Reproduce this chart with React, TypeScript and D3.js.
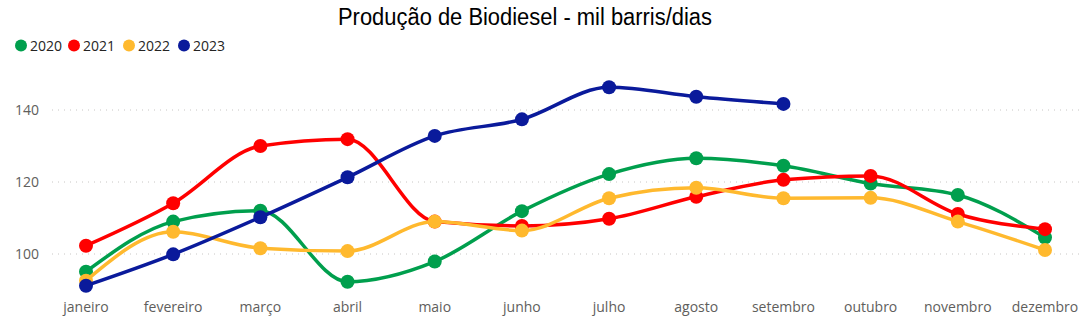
import React from "react";
import * as d3 from "d3";

const months = ["janeiro","fevereiro","março","abril","maio","junho","julho","agosto","setembro","outubro","novembro","dezembro"];
const years = ["2020","2021","2022","2023"];
const colors = ["#009F4D","#FF0000","#FFB92E","#0A1A9B"];
const s2020 = [95.1,109.0,112.0,92.3,97.9,111.9,122.2,126.6,124.5,119.6,116.4,104.6];
const s2021 = [102.3,114.1,130.0,131.9,109.0,107.8,109.8,115.9,120.6,121.7,111.1,106.9];
const s2022 = [92.6,106.2,101.6,100.8,109.0,106.5,115.5,118.4,115.5,115.6,109.0,101.1];
const s2023 = [91.2,99.9,110.2,121.3,132.8,137.4,146.3,143.7,141.7];
const yTicks = [100,120,140];
const title = "Produção de Biodiesel - mil barris/dias";

const W = 1082, H = 331;

export default function App() {
  const series = [s2020, s2021, s2022, s2023];
  const x = d3.scalePoint<string>().domain(months).range([86, 1045]);
  const y = d3.scaleLinear().domain([100, 140]).range([254, 110]);
  const line = d3.line<number>()
    .x((_, i) => x(months[i]) as number)
    .y(d => y(d))
    .curve(d3.curveMonotoneX);
  const font = "'Segoe UI', 'Open Sans', sans-serif";
  const legendX = [21, 74, 129, 184];
  return (
    <svg width={W} height={H} style={{ position: "absolute", left: 0, top: 0, background: "#fff" }}>
      <text x={525} y={25} textAnchor="middle" textLength={374} lengthAdjust="spacingAndGlyphs" fontFamily="'Liberation Sans', Arial, sans-serif" fontSize={23.5} fill="#000">{title}</text>
      {years.map((yr, i) => (
        <g key={yr}>
          <circle cx={legendX[i]} cy={45.5} r={6} fill={colors[i]} />
          <text x={legendX[i] + 9} y={50.5} fontFamily={font} fontSize={14} fill="#252423">{yr}</text>
        </g>
      ))}
      {yTicks.map(t => (
        <g key={t}>
          <line x1={52} x2={1082} y1={y(t)} y2={y(t)} stroke="#C8C6C4" strokeWidth={1} strokeDasharray="1,5" />
          <text x={39} y={y(t) + 5} textAnchor="end" fontFamily={font} fontSize={14} fill="#605E5C">{t}</text>
        </g>
      ))}
      {months.map(m => (
        <text key={m} x={x(m)} y={312} textAnchor="middle" fontFamily={font} fontSize={14} fill="#605E5C">{m}</text>
      ))}
      {series.map((s, i) => (
        <g key={i}>
          <path d={line(s) || ""} fill="none" stroke={colors[i]} strokeWidth={3.5} />
          {s.map((v, j) => (
            <circle key={j} cx={x(months[j])} cy={y(v)} r={7} fill={colors[i]} />
          ))}
        </g>
      ))}
    </svg>
  );
}
